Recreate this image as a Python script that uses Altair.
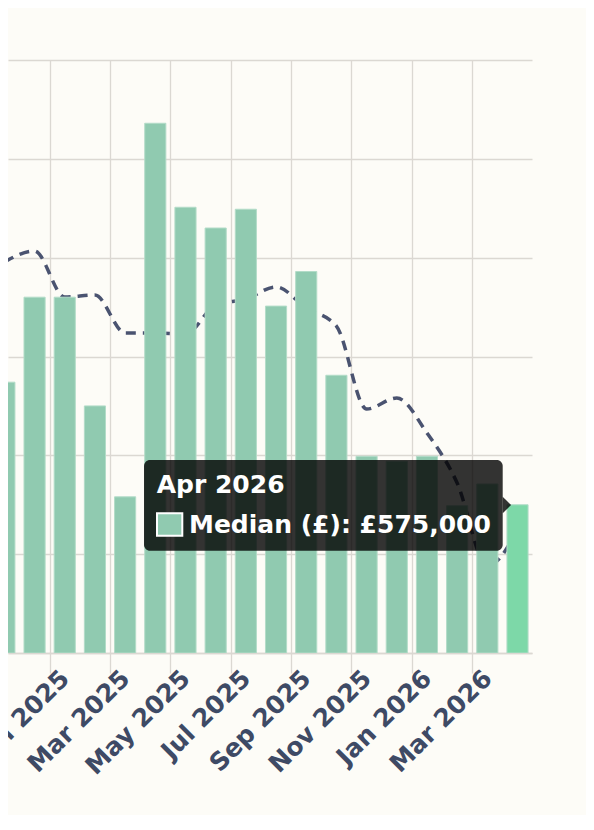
import altair as alt
import pandas as pd

# ---- data ----
months = ["Nov 2024", "Dec 2024", "Jan 2025", "Feb 2025", "Mar 2025", "Apr 2025",
          "May 2025", "Jun 2025", "Jul 2025", "Aug 2025", "Sep 2025", "Oct 2025",
          "Nov 2025", "Dec 2025", "Jan 2026", "Feb 2026", "Mar 2026", "Apr 2026"]
median_price = [637000, 680000, 680000, 625000, 579000, 768000,
                725500, 715000, 724500, 675500, 693000, 640500,
                599500, 597000, 599500, 574500, 585500, 575000]
trend_price = [697800, 703400, 680100, 681100, 661900, 661900,
               661400, 676100, 679100, 685200, 674500, 665400,
               623400, 629000, 611300, 586000, 544000, 562200]
y_ticks = [500000, 550000, 600000, 650000, 700000, 750000, 800000]
hover_month = "Apr 2026"
series_name = "Median (£)"

# ---- styles ----
BG = "#fdfcf7"
GRID = "#dbd8d2"
BAR = "#90cab0"
BAR_HI = "#7dd8a8"
LINE = "#4a5370"
LABEL = "#3e4a65"
FONT = "DejaVu Sans"

df = pd.DataFrame({"month": months, "median": median_price, "trend": trend_price})
df["idx"] = list(range(len(months)))

label_expr = "[" + ",".join("'%s'" % m for m in months) + "][datum.value]"
label_values = list(range(0, len(months), 2))
grid_values = [i + 0.5 for i in range(1, len(months) - 1, 2)]

x_scale = alt.Scale(domain=[0.12, 17.48], nice=False, zero=False)
y_scale = alt.Scale(domain=[y_ticks[0], y_ticks[-1]], nice=False, zero=False)
y_axis = alt.Axis(values=y_ticks, grid=True, gridColor=GRID, gridWidth=1.3,
                  labels=False, ticks=False, domain=False, title=None)

base = alt.Chart(df)

line = base.mark_line(clip=True, strokeDash=[10, 7], strokeWidth=3.5, color=LINE,
                      interpolate="monotone").encode(
    x=alt.X("idx:Q", scale=x_scale,
            axis=alt.Axis(values=grid_values, grid=True, gridColor=GRID, gridWidth=1.3,
                          labels=False, ticks=True, tickSize=20, tickColor=GRID,
                          tickWidth=1.3, domain=False, title=None, orient="bottom")),
    y=alt.Y("trend:Q", scale=y_scale, axis=y_axis),
)

bars = base.transform_calculate(
    x0="datum.idx - 0.35", x1="datum.idx + 0.35"
).mark_bar(clip=True, stroke="#b3dcc8", strokeWidth=1).encode(
    x=alt.X("x0:Q", scale=x_scale,
            axis=alt.Axis(values=label_values, labelExpr=label_expr, labelAngle=315,
                          labelAlign="right", labelBaseline="middle", labelPadding=21,
                          labelFont=FONT, labelFontSize=25, labelFontWeight="bold",
                          labelColor=LABEL, labelOverlap=False, labelFlush=False,
                          labelBound=False, ticks=False, grid=False, domain=True,
                          domainColor=GRID, domainWidth=1.5, title=None, orient="bottom")),
    x2="x1:Q",
    y=alt.Y("median:Q", scale=y_scale, axis=y_axis),
    y2=alt.datum(y_ticks[0]),
    color=alt.condition(alt.datum.month == hover_month, alt.value(BAR_HI), alt.value(BAR)),
)

hv = median_price[months.index(hover_month)]
tip_df = pd.DataFrame({"title": [hover_month], "body": ["%s: £%s" % (series_name, format(hv, ","))]})
tip = alt.Chart(tip_df)

tip_box = tip.mark_rect(cornerRadius=6, color="black", opacity=0.8).encode(
    x=alt.value(136), x2=alt.value(494.7), y=alt.value(400), y2=alt.value(490.7))
caret = tip.mark_point(shape="M0,-1L1,0L0,1Z", filled=True, size=280, color="black",
                       opacity=0.8, strokeWidth=0).encode(x=alt.value(494.7), y=alt.value(445))
tip_title = tip.mark_text(align="left", baseline="alphabetic", font=FONT, fontSize=25,
                          fontWeight="bold", color="white").encode(
    x=alt.value(148.7), y=alt.value(432.8), text="title:N")
swatch = tip.mark_rect(fill=BAR, stroke="white", strokeWidth=2).encode(
    x=alt.value(149), x2=alt.value(174.3), y=alt.value(453.3), y2=alt.value(475.7))
tip_body = tip.mark_text(align="left", baseline="alphabetic", font=FONT, fontSize=25,
                         fontWeight="bold", color="white").encode(
    x=alt.value(181), y=alt.value(472.8), text="body:N")

chart = alt.layer(line, bars, tip_box, caret, tip_title, swatch, tip_body).resolve_axis(
    x="independent"
).properties(
    width=524, height=593,
    autosize=alt.AutoSizeParams(type="none"),
    padding={"left": 0, "top": 52, "right": 54, "bottom": 162},
    background=BG,
).configure_view(stroke=None).configure_axisY(ticks=False, labels=False, domain=False)

chart.save("out.html", embed_options={"renderer": "svg", "actions": False})
